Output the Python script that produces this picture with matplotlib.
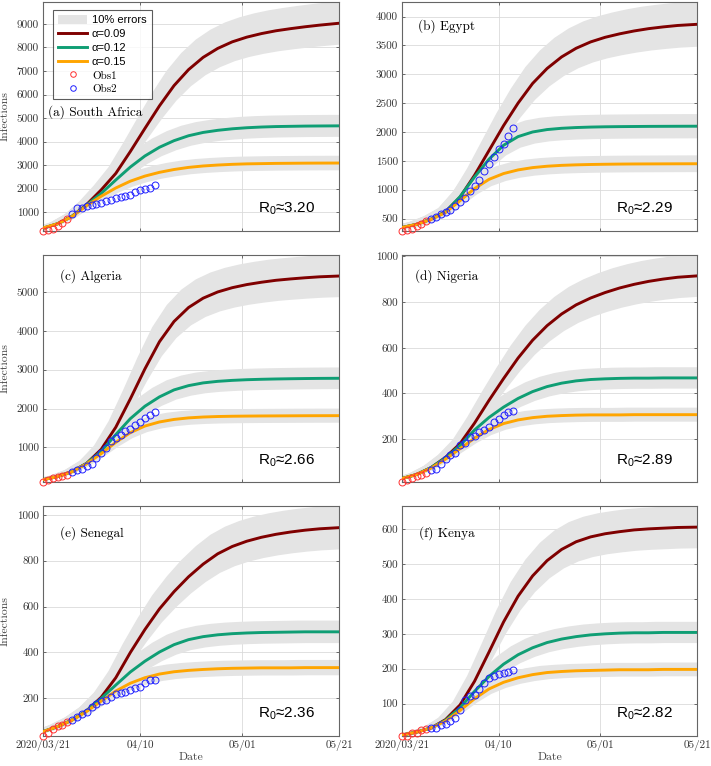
import matplotlib
matplotlib.use("Agg")
import matplotlib.pyplot as plt
import numpy as np
from matplotlib.patches import Patch
from matplotlib.lines import Line2D

# model output, read every 3 days from 2020/03/21 (day 0) to 2020/05/21 (day 61)
days = [0, 3, 6, 9, 12, 15, 18, 21, 24, 27, 30, 33, 36, 39, 42, 45, 48, 51, 54, 57, 61]

sa_a09 = [320, 510, 830, 1330, 1950, 2650, 3580, 4560, 5520, 6380, 7060, 7580, 7960, 8240, 8440, 8590, 8710, 8800, 8880, 8950, 9030]
sa_a12 = [320, 510, 830, 1310, 1800, 2370, 2920, 3390, 3760, 4040, 4250, 4390, 4480, 4545, 4590, 4620, 4640, 4650, 4660, 4665, 4670]
sa_a15 = [330, 510, 820, 1280, 1680, 2030, 2320, 2535, 2695, 2815, 2905, 2965, 3005, 3035, 3055, 3065, 3075, 3080, 3085, 3088, 3090]

eg_a09 = [345, 400, 490, 620, 870, 1250, 1680, 2110, 2500, 2840, 3100, 3300, 3450, 3560, 3640, 3700, 3750, 3790, 3820, 3845, 3865]
eg_a12 = [345, 400, 490, 615, 880, 1220, 1530, 1770, 1920, 2000, 2042, 2064, 2077, 2085, 2090, 2093, 2095, 2097, 2098, 2099, 2100]
eg_a15 = [345, 400, 485, 605, 810, 1020, 1180, 1280, 1343, 1383, 1407, 1422, 1431, 1437, 1441, 1444, 1446, 1447, 1448, 1449, 1450]

al_a09 = [170, 250, 380, 590, 950, 1520, 2250, 3020, 3720, 4240, 4600, 4840, 5000, 5110, 5190, 5250, 5300, 5335, 5365, 5390, 5410]
al_a12 = [170, 250, 380, 590, 900, 1330, 1740, 2060, 2300, 2480, 2590, 2660, 2700, 2725, 2742, 2753, 2761, 2767, 2772, 2776, 2779]
al_a15 = [170, 250, 375, 580, 840, 1130, 1380, 1550, 1655, 1720, 1760, 1782, 1795, 1802, 1806, 1809, 1811, 1813, 1815, 1816, 1817]

ng_a09 = [27, 45, 75, 120, 180, 270, 370, 465, 555, 633, 697, 748, 788, 818, 842, 862, 878, 891, 901, 909, 915]
ng_a12 = [27, 45, 75, 118, 172, 240, 295, 340, 378, 408, 430, 445, 455, 461, 464, 466, 467, 467, 468, 468, 468]
ng_a15 = [27, 45, 73, 112, 158, 204, 242, 268, 284, 294, 300, 303, 305, 306, 306, 306, 307, 307, 307, 307, 307]

sn_a09 = [55, 77, 106, 146, 205, 290, 400, 500, 590, 665, 730, 785, 830, 862, 885, 902, 915, 925, 933, 939, 944]
sn_a12 = [55, 77, 106, 146, 200, 258, 315, 362, 402, 434, 456, 469, 477, 482, 485, 487, 488, 489, 490, 490, 490]
sn_a15 = [55, 77, 105, 143, 188, 232, 266, 290, 306, 316, 322, 326, 329, 331, 332, 333, 333, 333, 334, 334, 334]

ke_a09 = [10, 18, 30, 54, 96, 164, 248, 334, 408, 466, 510, 542, 564, 578, 587, 593, 598, 601, 603, 605, 606]
ke_a12 = [10, 18, 30, 52, 88, 135, 178, 213, 240, 260, 275, 285, 292, 297, 300, 302, 303, 303, 304, 304, 304]
ke_a15 = [10, 18, 30, 50, 80, 114, 142, 161, 174, 183, 189, 192, 194, 195, 196, 197, 197, 197, 198, 198, 198]

# observed cumulative cases, one per day from day 0 (first 6 = Obs1, rest = Obs2)
obs_days = list(range(24))
sa_obs = [202, 240, 274, 402, 554, 709, 927, 1170, 1187, 1280, 1326, 1353, 1380, 1462, 1505, 1585, 1655, 1686, 1749, 1845, 1934, 2003, 2028, 2173]
eg_obs = [285, 294, 327, 366, 402, 456, 495, 536, 576, 609, 656, 710, 779, 865, 985, 1070, 1173, 1322, 1450, 1560, 1699, 1794, 1939, 2065]
al_obs = [110, 150, 201, 230, 264, 302, 367, 409, 454, 511, 584, 716, 847, 986, 1171, 1251, 1320, 1423, 1468, 1572, 1666, 1761, 1825, 1914]
ng_obs = [12, 22, 30, 40, 44, 51, 65, 70, 89, 111, 131, 139, 174, 184, 210, 214, 232, 238, 254, 276, 288, 305, 318, 323]
sn_obs = [36, 47, 67, 79, 86, 99, 105, 119, 130, 142, 162, 175, 190, 195, 207, 219, 222, 226, 237, 244, 250, 265, 278, 280]
ke_obs = [7, 7, 15, 16, 25, 28, 31, 31, 38, 42, 50, 59, 81, 110, 122, 126, 142, 158, 172, 179, 184, 189, 191, 197]

titles = ["(a) South Africa", "(b) Egypt", "(c) Algeria", "(d) Nigeria", "(e) Senegal", "(f) Kenya"]
r0_vals = ["3.20", "2.29", "2.66", "2.89", "2.36", "2.82"]
yticks = [range(1000, 9001, 1000), range(500, 4001, 500), range(1000, 5001, 1000),
          range(200, 1001, 200), range(200, 1001, 200), range(100, 601, 100)]
alpha_labels = ["α=0.09", "α=0.12", "α=0.15"]
date_ticks = [0, 20, 41, 61]
date_labels = ["2020/03/21", "04/10", "05/01", "05/21"]

curves = [(sa_a09, sa_a12, sa_a15), (eg_a09, eg_a12, eg_a15), (al_a09, al_a12, al_a15),
          (ng_a09, ng_a12, ng_a15), (sn_a09, sn_a12, sn_a15), (ke_a09, ke_a12, ke_a15)]
observed = [sa_obs, eg_obs, al_obs, ng_obs, sn_obs, ke_obs]

colors = ["#7f0000", "#0f9e74", "#ffa500"]
band_color = "#e4e4e4"
serif = "cmr10"
sans = ["Liberation Sans", "DejaVu Sans"]

fig = plt.figure(figsize=(7.11, 7.66), dpi=100)
W, H = 711, 766
col_x = [(43, 339), (402, 697)]
row_y = [(2, 231), (255, 482), (506, 736)]
lab_pos = [(0.017, 0.52), (0.054, 0.895), (0.057, 0.907), (0.044, 0.905), (0.057, 0.884), (0.058, 0.884)]

d = np.array(days, dtype=float)
for i in range(6):
    r, c = divmod(i, 2)
    x0, x1 = col_x[c]
    y0, y1 = row_y[r]
    ax = fig.add_axes([x0 / W, 1 - y1 / H, (x1 - x0) / W, (y1 - y0) / H])

    # 10% error band, a bit wider on the early side while the curve rises
    for cv in curves[i]:
        cv = np.array(cv, dtype=float)
        xs = np.r_[d - 1.5, 70, 70, d[::-1] + 0.5, -5]
        ys = np.r_[cv * 1.1, cv[-1] * 1.1, cv[-1] * 0.9, cv[::-1] * 0.9, cv[0] * 0.9]
        ax.fill(xs, ys, color=band_color, lw=0, zorder=1)
    for cv, col in zip(curves[i], colors):
        ax.plot(days, cv, color=col, lw=2.1, zorder=3, solid_joinstyle="round")

    ob = observed[i]
    ax.plot(obs_days[:6], ob[:6], "o", mfc="none", mec="#ff3030", ms=5, mew=0.7, zorder=4, clip_on=False)
    ax.plot(obs_days[6:], ob[6:], "o", mfc="none", mec="#2020ff", ms=5, mew=0.7, zorder=4, clip_on=False)

    ax.set_xlim(0, 61)
    ax.set_ylim(ob[0], max(curves[i][0]) * 1.1)
    ax.set_xticks(date_ticks)
    ax.set_yticks(list(yticks[i]))
    ax.set_yticklabels([str(v) for v in yticks[i]], fontfamily=serif, fontsize=8, color="#333333")
    if r == 2:
        ax.set_xticklabels(date_labels, fontfamily=serif, fontsize=8, color="#333333")
        ax.set_xlabel("Date", fontfamily=serif, fontsize=8.5, color="#444444", labelpad=1)
    else:
        ax.set_xticklabels([])
    if c == 0:
        ax.set_ylabel("Infections", fontfamily=serif, fontsize=8.5, color="#444444", labelpad=5)

    ax.grid(True, color="#dadada", lw=0.6)
    ax.set_axisbelow(True)
    ax.tick_params(direction="in", length=2.5, width=0.6, color="#555555", top=True, right=True, pad=3)
    for sp in ax.spines.values():
        sp.set_color("#666666")
        sp.set_linewidth(0.8)

    ax.text(*lab_pos[i], titles[i], transform=ax.transAxes, fontfamily=serif, fontsize=9.5,
            va="center", ha="left", zorder=6)
    ax.text(0.725, 0.095, r"$\mathregular{R_0}$≈" + r0_vals[i], transform=ax.transAxes,
            fontfamily=sans, fontsize=11, va="center", ha="left", zorder=6)

    if i == 0:
        handles = [Patch(facecolor=band_color, edgecolor="none", label="10% errors")]
        handles += [Line2D([], [], color=col, lw=2.1, label=lab) for col, lab in zip(colors, alpha_labels)]
        handles += [Line2D([], [], ls="none", marker="o", mfc="none", mec="#ff3030", ms=4, mew=0.7, label="Obs1"),
                    Line2D([], [], ls="none", marker="o", mfc="none", mec="#2020ff", ms=4, mew=0.7, label="Obs2")]
        leg = ax.legend(handles=handles, loc="upper left", bbox_to_anchor=(0.034, 0.965),
                        fontsize=8, frameon=True, fancybox=False, handlelength=2.6, handleheight=0.9,
                        labelspacing=0.3, borderpad=0.45, handletextpad=0.45, borderaxespad=0)
        leg.get_frame().set_edgecolor("#333333")
        leg.get_frame().set_linewidth(0.8)
        leg.set_zorder(10)
        for k, t in enumerate(leg.get_texts()):
            t.set_fontfamily(sans if k < 4 else serif)

fig.savefig("out.png", dpi=100)
